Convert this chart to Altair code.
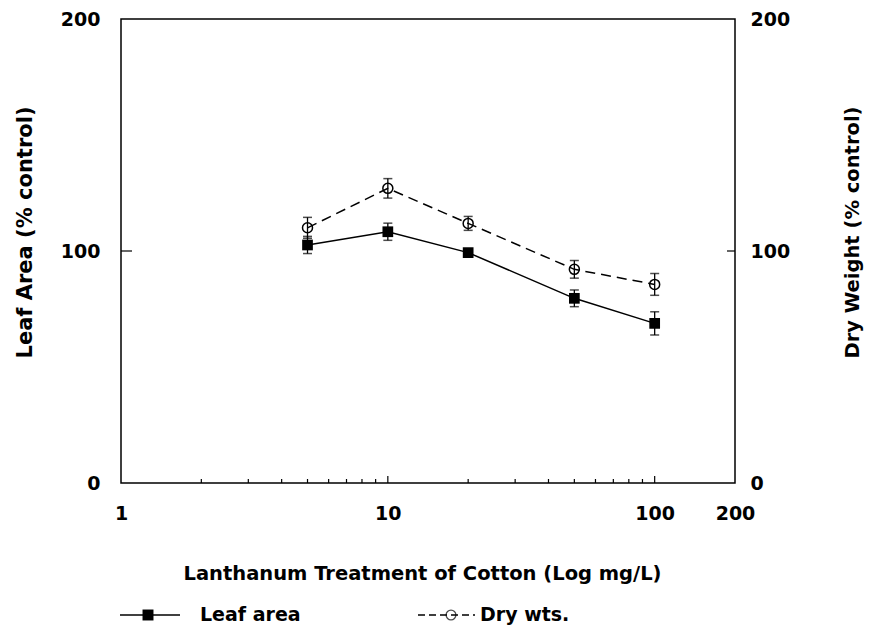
import altair as alt
import pandas as pd

# ---- data ----
conc = [5, 10, 20, 50, 100]
leaf_area = [102.6, 108.3, 99.3, 79.6, 68.8]
leaf_err = [3.7, 3.7, 1.5, 3.6, 5.0]
dry_wts = [110.0, 127.0, 111.9, 92.1, 85.6]
dry_err = [4.5, 4.2, 3.0, 3.8, 4.7]

x_label_values = [1, 10, 100, 200]
y_label_values = [0, 100, 200]
minor_ticks = [2, 3, 4, 5, 6, 7, 8, 9, 20, 30, 40, 50, 60, 70, 80, 90]
major_ticks = [10, 100]
y_inner_ticks = [100]

FONT = "DejaVu Sans"
W, H = 614, 464

leaf = pd.DataFrame({
    "conc": conc, "value": leaf_area,
    "lo": [v - e for v, e in zip(leaf_area, leaf_err)],
    "hi": [v + e for v, e in zip(leaf_area, leaf_err)],
})
dry = pd.DataFrame({
    "conc": conc, "value": dry_wts,
    "lo": [v - e for v, e in zip(dry_wts, dry_err)],
    "hi": [v + e for v, e in zip(dry_wts, dry_err)],
})

xscale = alt.Scale(type="log", domain=[1, 200], nice=False)
yscale = alt.Scale(domain=[0, 200], nice=False, zero=False)

x_axis = alt.Axis(
    values=x_label_values, format="d", title="Lanthanum Treatment of Cotton (Log mg/L)",
    ticks=False, domain=False, grid=False, labelFlush=False, labelOverlap=False,
    labelPadding=21, labelFont=FONT, labelFontSize=19, labelFontWeight="bold", labelColor="black",
    titleFont=FONT, titleFontSize=19.5, titleFontWeight="bold", titleColor="black",
    titleX=301, titleY=90, titleAlign="center", titleBaseline="middle",
)
left_axis = alt.Axis(
    orient="left", values=y_label_values, title="Leaf Area (% control)",
    ticks=False, domain=False, grid=False, labelPadding=21,
    labelFont=FONT, labelFontSize=19, labelFontWeight="bold", labelColor="black",
    titleFont=FONT, titleFontSize=21, titleFontWeight="bold", titleColor="black",
    titleX=-96, titleY=213, titleAngle=270, titleAlign="center", titleBaseline="middle",
)
right_axis = alt.Axis(
    orient="right", values=y_label_values, title="Dry Weight (% control)",
    ticks=False, domain=False, grid=False, labelPadding=15,
    labelFont=FONT, labelFontSize=19, labelFontWeight="bold", labelColor="black",
    titleFont=FONT, titleFontSize=19.5, titleFontWeight="bold", titleColor="black",
    titleX=117, titleY=213, titleAngle=270, titleAlign="center", titleBaseline="middle",
)


def X(field="conc:Q"):
    # the same axis definition everywhere, so the shared x axis merges cleanly
    return alt.X(field, scale=xscale, axis=x_axis)


def Y(field, axis=None):
    return alt.Y(field, scale=yscale, axis=axis)


layers = []

# ---- leaf area (left axis) ----
lb = alt.Chart(leaf)
layers.append(lb.mark_line(color="black", strokeWidth=1.5).encode(
    x=X(), y=Y("value:Q", left_axis)))
layers.append(lb.mark_rule(color="black", strokeWidth=1.3).encode(
    x=X(), y=Y("lo:Q"), y2="hi:Q"))
layers.append(lb.mark_tick(color="black", orient="horizontal", size=9, thickness=1.5).encode(
    x=X(), y=Y("lo:Q")))
layers.append(lb.mark_tick(color="black", orient="horizontal", size=9, thickness=1.5).encode(
    x=X(), y=Y("hi:Q")))
layers.append(lb.mark_point(shape="square", filled=True, color="black", size=115, opacity=1).encode(
    x=X(), y=Y("value:Q")))

# ---- dry weight (right axis) ----
db = alt.Chart(dry)
layers.append(db.mark_line(color="black", strokeWidth=1.5, strokeDash=[10, 6]).encode(
    x=X(), y=Y("value:Q", right_axis)))
layers.append(db.mark_rule(color="black", strokeWidth=1.3).encode(
    x=X(), y=Y("lo:Q"), y2="hi:Q"))
layers.append(db.mark_tick(color="black", orient="horizontal", size=9, thickness=1.5).encode(
    x=X(), y=Y("lo:Q")))
layers.append(db.mark_tick(color="black", orient="horizontal", size=9, thickness=1.5).encode(
    x=X(), y=Y("hi:Q")))
layers.append(db.mark_point(shape="circle", filled=False, stroke="black", color="black",
                            strokeWidth=1.5, size=100, opacity=1).encode(
    x=X(), y=Y("value:Q")))

# ---- inward axis ticks ----
minor_df = pd.DataFrame({"conc": minor_ticks})
major_df = pd.DataFrame({"conc": major_ticks})
yt_df = pd.DataFrame({"v": y_inner_ticks})
layers.append(alt.Chart(minor_df).mark_rule(color="black", strokeWidth=1.2).encode(
    x=X(), y=alt.value(H), y2=alt.value(H - 4)))
layers.append(alt.Chart(major_df).mark_rule(color="black", strokeWidth=1.2).encode(
    x=X(), y=alt.value(H), y2=alt.value(H - 7)))
layers.append(alt.Chart(yt_df).mark_rule(color="black", strokeWidth=1.2).encode(
    y=Y("v:Q"), x=alt.value(0), x2=alt.value(11)))
layers.append(alt.Chart(yt_df).mark_rule(color="black", strokeWidth=1.2).encode(
    y=Y("v:Q"), x=alt.value(W - 8), x2=alt.value(W)))

# ---- manual legend ----
one = pd.DataFrame({"a": [0]})
LY = 596
layers.append(alt.Chart(one).mark_rule(color="black", strokeWidth=1.5).encode(
    x=alt.value(-1), x2=alt.value(59), y=alt.value(LY)))
layers.append(alt.Chart(one).mark_point(shape="square", filled=True, color="black", size=120, opacity=1).encode(
    x=alt.value(27), y=alt.value(LY)))
layers.append(alt.Chart(one).mark_text(text="Leaf area", align="left", baseline="middle",
                                       font=FONT, fontSize=19, fontWeight="bold", color="black").encode(
    x=alt.value(79), y=alt.value(LY)))
layers.append(alt.Chart(one).mark_rule(color="black", strokeWidth=1.3, strokeDash=[7, 4]).encode(
    x=alt.value(297), x2=alt.value(354), y=alt.value(LY)))
layers.append(alt.Chart(one).mark_point(shape="circle", filled=False, color="black", size=95, strokeWidth=1.3).encode(
    x=alt.value(330), y=alt.value(LY)))
layers.append(alt.Chart(one).mark_text(text="Dry wts.", align="left", baseline="middle",
                                       font=FONT, fontSize=19, fontWeight="bold", color="black").encode(
    x=alt.value(359), y=alt.value(LY)))

chart = alt.layer(*layers).resolve_scale(y="independent").properties(
    width=W, height=H,
    padding={"left": 113, "top": 11, "right": 129, "bottom": 145},
    autosize=alt.AutoSizeParams(type="none"),
    background="white",
).configure_view(stroke="black", strokeWidth=1.5)

chart.save("out.html", embed_options={"renderer": "svg", "actions": False})
